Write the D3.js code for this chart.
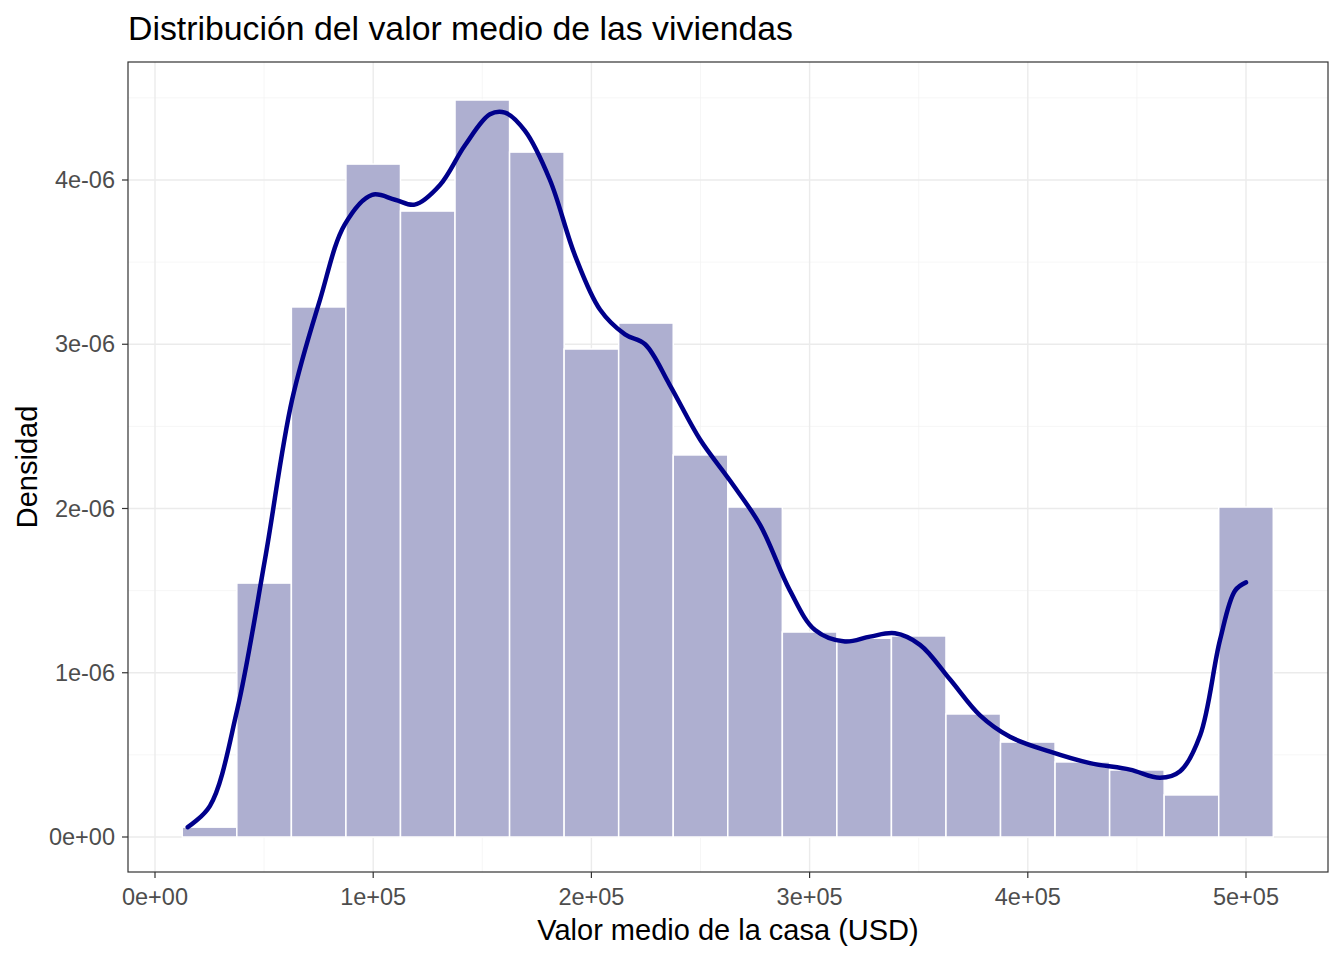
<!DOCTYPE html>
<html>
<head>
<meta charset="utf-8" />
<style>
  body { margin: 0; background: #fff; }
  text { font-family: "Liberation Sans", Arial, sans-serif; }
</style>
</head>
<body>
<svg width="1344" height="960"></svg>
<script src="https://d3js.org/d3.v7.min.js"></script>
<script>
// bins: 20 bins, width 25000, centered at 25000*i
const binCenters = d3.range(1, 21).map(i => i * 25000)
const binDensity = [0.06, 1.546, 3.227, 4.097, 3.811, 4.487, 4.170, 2.971, 3.129, 2.326,
                    2.009, 1.248, 1.21, 1.224, 0.749, 0.578, 0.457, 0.408, 0.256, 2.009]
const binWidth = 25000

// kernel density curve, density in 1e-6
const kdeX = [15000, 25200, 37600, 50400, 62800, 75600, 87000, 99500, 110000, 119000,
              130600, 142000, 153500, 160400, 169500, 181000, 192500, 204000, 215400, 224600,
              236000, 249800, 263500, 277300, 291000, 302500, 316200, 327700, 339100, 350600,
              364300, 378100, 391800, 410200, 428500, 446800, 460600, 469800, 479000, 488100,
              495000, 500000]
const kdeY = [0.06, 0.19, 0.77, 1.69, 2.66, 3.27, 3.73, 3.91, 3.88, 3.85,
              3.97, 4.21, 4.40, 4.41, 4.30, 4.0, 3.54, 3.21, 3.06, 3.0,
              2.75, 2.42, 2.17, 1.90, 1.50, 1.26, 1.19, 1.22, 1.24, 1.17,
              0.96, 0.74, 0.61, 0.52, 0.45, 0.41, 0.36, 0.40, 0.62, 1.20,
              1.50, 1.55]

const xTicks = [0, 100000, 200000, 300000, 400000, 500000]
const xTickLabels = ['0e+00', '1e+05', '2e+05', '3e+05', '4e+05', '5e+05']
const yTicks = [0, 1e-6, 2e-6, 3e-6, 4e-6]
const yTickLabels = ['0e+00', '1e-06', '2e-06', '3e-06', '4e-06']

const svg = d3.select('svg')
const L = 128, R = 1328, T = 62, B = 872

const x = d3.scaleLinear().domain([0, 500000]).range([155, 1246])
const y = d3.scaleLinear().domain([0, 4e-6]).range([837, 180])

const g = svg.append('g')

// minor grid
const xMinor = [50000, 150000, 250000, 350000, 450000]
const yMinor = [0.5e-6, 1.5e-6, 2.5e-6, 3.5e-6, 4.5e-6]
g.selectAll('.xm').data(xMinor).join('line')
  .attr('x1', d => x(d)).attr('x2', d => x(d)).attr('y1', T).attr('y2', B)
  .attr('stroke', '#f2f2f2').attr('stroke-width', 0.7)
g.selectAll('.ym').data(yMinor).join('line')
  .attr('y1', d => y(d)).attr('y2', d => y(d)).attr('x1', L).attr('x2', R)
  .attr('stroke', '#f2f2f2').attr('stroke-width', 0.7)
// major grid
g.selectAll('.xM').data(xTicks).join('line')
  .attr('x1', d => x(d)).attr('x2', d => x(d)).attr('y1', T).attr('y2', B)
  .attr('stroke', '#ebebeb').attr('stroke-width', 1.4)
g.selectAll('.yM').data(yTicks).join('line')
  .attr('y1', d => y(d)).attr('y2', d => y(d)).attr('x1', L).attr('x2', R)
  .attr('stroke', '#ebebeb').attr('stroke-width', 1.4)

// bars
g.selectAll('.bar').data(binCenters).join('rect')
  .attr('x', d => x(d - binWidth / 2))
  .attr('width', d => x(d + binWidth / 2) - x(d - binWidth / 2))
  .attr('y', (d, i) => y(binDensity[i] * 1e-6))
  .attr('height', (d, i) => y(0) - y(binDensity[i] * 1e-6))
  .attr('fill', '#aeafd0')
  .attr('stroke', '#fff').attr('stroke-width', 1.5)

// density curve
const line = d3.line().curve(d3.curveCatmullRom)
  .x((d, i) => x(kdeX[i])).y((d, i) => y(kdeY[i] * 1e-6))
g.append('path').datum(kdeX).attr('d', line)
  .attr('fill', 'none').attr('stroke', '#00008b').attr('stroke-width', 4.5)
  .attr('stroke-linecap', 'round')

// panel border
svg.append('rect').attr('x', L).attr('y', T).attr('width', R - L).attr('height', B - T)
  .attr('fill', 'none').attr('stroke', '#333').attr('stroke-width', 1.2)

// ticks
svg.selectAll('.xt').data(xTicks).join('line')
  .attr('x1', d => x(d)).attr('x2', d => x(d)).attr('y1', B).attr('y2', B + 6)
  .attr('stroke', '#333').attr('stroke-width', 1.2)
svg.selectAll('.xl').data(xTicks).join('text')
  .attr('x', d => x(d)).attr('y', B + 33).attr('text-anchor', 'middle')
  .attr('font-size', 23.5).attr('fill', '#4d4d4d').text((d, i) => xTickLabels[i])
svg.selectAll('.yt').data(yTicks).join('line')
  .attr('y1', d => y(d)).attr('y2', d => y(d)).attr('x1', L - 6).attr('x2', L)
  .attr('stroke', '#333').attr('stroke-width', 1.2)
svg.selectAll('.yl').data(yTicks).join('text')
  .attr('x', L - 13).attr('y', d => y(d) + 8).attr('text-anchor', 'end')
  .attr('font-size', 23.5).attr('fill', '#4d4d4d').text((d, i) => yTickLabels[i])

// labels
svg.append('text').attr('x', (L + R) / 2).attr('y', 940).attr('text-anchor', 'middle')
  .attr('font-size', 29).attr('fill', '#000').text('Valor medio de la casa (USD)')
svg.append('text').attr('transform', `translate(37,${(T + B) / 2 - 0}) rotate(-90)`)
  .attr('text-anchor', 'middle').attr('font-size', 29).attr('fill', '#000').text('Densidad')
svg.append('text').attr('x', L).attr('y', 40)
  .attr('font-size', 33.8).attr('fill', '#000').text('Distribución del valor medio de las viviendas')
</script>
</body>
</html>
